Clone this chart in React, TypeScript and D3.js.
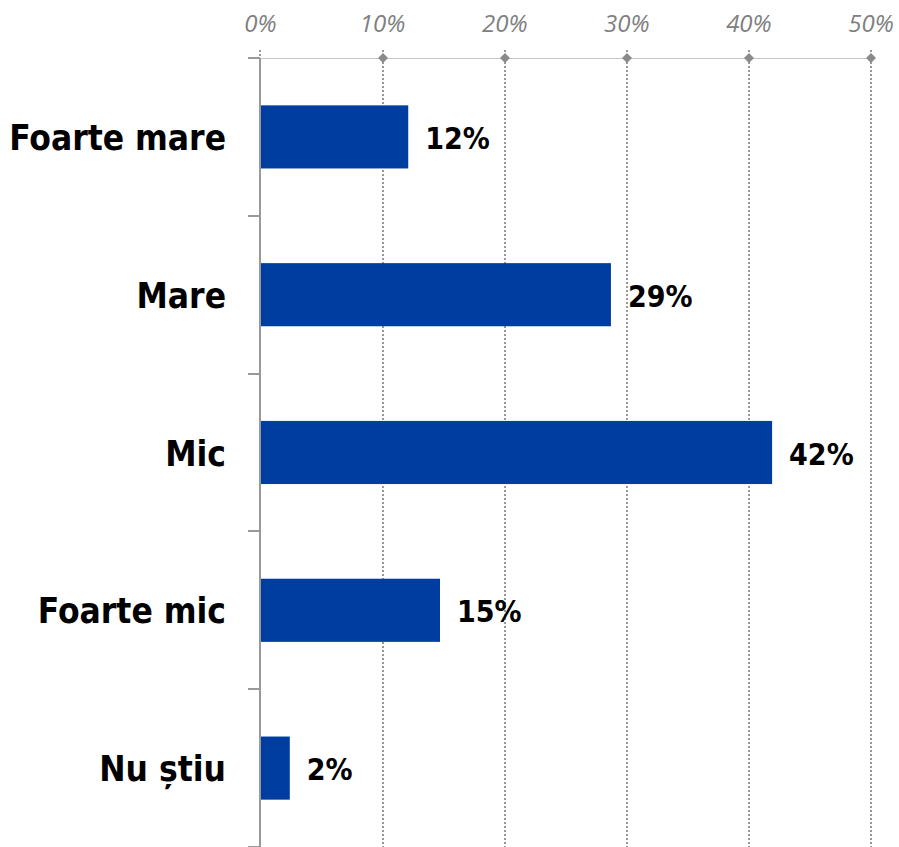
import React from "react";
import * as d3 from "d3";

const categories = ["Foarte mare", "Mare", "Mic", "Foarte mic", "Nu știu"];
const values = [12.1, 28.7, 41.9, 14.7, 2.4];
const valueLabels = ["12%", "29%", "42%", "15%", "2%"];
const tickValues = [0, 10, 20, 30, 40, 50];

const W = 899;
const H = 847;
const m = { left: 260.5, right: 871, top: 58, bottom: 847 };
const catFont = "'DejaVu Sans Condensed', 'DejaVu Sans', sans-serif";

export default function App() {
  const x = d3.scaleLinear().domain([0, 50]).range([m.left, m.right]);
  const y = d3
    .scaleBand<string>()
    .domain(categories)
    .range([m.top, m.bottom])
    .paddingInner(0.6)
    .paddingOuter(0.3);
  const bandStep = (m.bottom - m.top) / categories.length;
  const boundaries = d3.range(categories.length + 1).map((i) => m.top + i * bandStep);
  const grey = "#8a8a8a";
  const gx = (t: number) => Math.round(x(t));

  return (
    <svg width={W} height={H} style={{ position: "absolute", left: 0, top: 0, background: "#fff" }}>
      {/* gridlines */}
      {tickValues.slice(1).map((t) => (
        <line
          key={"g" + t}
          x1={gx(t)}
          x2={gx(t)}
          y1={50}
          y2={H}
          stroke="#999"
          strokeWidth={2}
          strokeDasharray="2 2"
        />
      ))}
      <line x1={260} x2={260} y1={50} y2={m.top} stroke="#999" strokeWidth={2} strokeDasharray="2 2" />
      {/* top axis line */}
      <line x1={x(0)} x2={x(50)} y1={m.top + 0.5} y2={m.top + 0.5} stroke={grey} strokeWidth={1} strokeDasharray="1 1" />
      {tickValues.slice(1).map((t) => (
        <path
          key={"d" + t}
          d={`M${gx(t)},${m.top - 5} L${gx(t) + 5},${m.top} L${gx(t)},${m.top + 5} L${gx(t) - 5},${m.top} Z`}
          fill={grey}
        />
      ))}
      {tickValues.map((t) => (
        <text
          key={"t" + t}
          x={x(t)}
          y={32}
          textAnchor="middle"
          fontFamily="'Open Sans', sans-serif"
          fontStyle="italic"
          fontSize={24}
          fill="#808080"
        >
          {t}%
        </text>
      ))}
      {/* bars */}
      {categories.map((c, i) => (
        <rect
          key={"b" + c}
          x={x(0)}
          y={y(c)!}
          width={x(values[i]) - x(0)}
          height={y.bandwidth()}
          fill="#003da0"
        />
      ))}
      {/* left axis */}
      <line x1={260} x2={260} y1={m.top} y2={H} stroke="#999" strokeWidth={2} />
      {boundaries.map((b, i) => (
        <line key={"k" + i} x1={248} x2={260} y1={Math.round(b)} y2={Math.round(b)} stroke="#999" strokeWidth={2} />
      ))}
      {/* category labels */}
      {categories.map((c) => (
        <text
          key={"c" + c}
          x={226}
          y={y(c)! + y.bandwidth() / 2 + 13}
          textAnchor="end"
          fontFamily={catFont}
          fontWeight="bold"
          fontSize={35}
          fill="#000"
        >
          {c}
        </text>
      ))}
      {/* value labels */}
      {categories.map((c, i) => (
        <text
          key={"v" + c}
          x={x(values[i]) + 17}
          y={y(c)! + y.bandwidth() / 2 + 12}
          fontFamily={catFont}
          fontWeight="bold"
          fontSize={30}
          fill="#000"
        >
          {valueLabels[i]}
        </text>
      ))}
    </svg>
  );
}
